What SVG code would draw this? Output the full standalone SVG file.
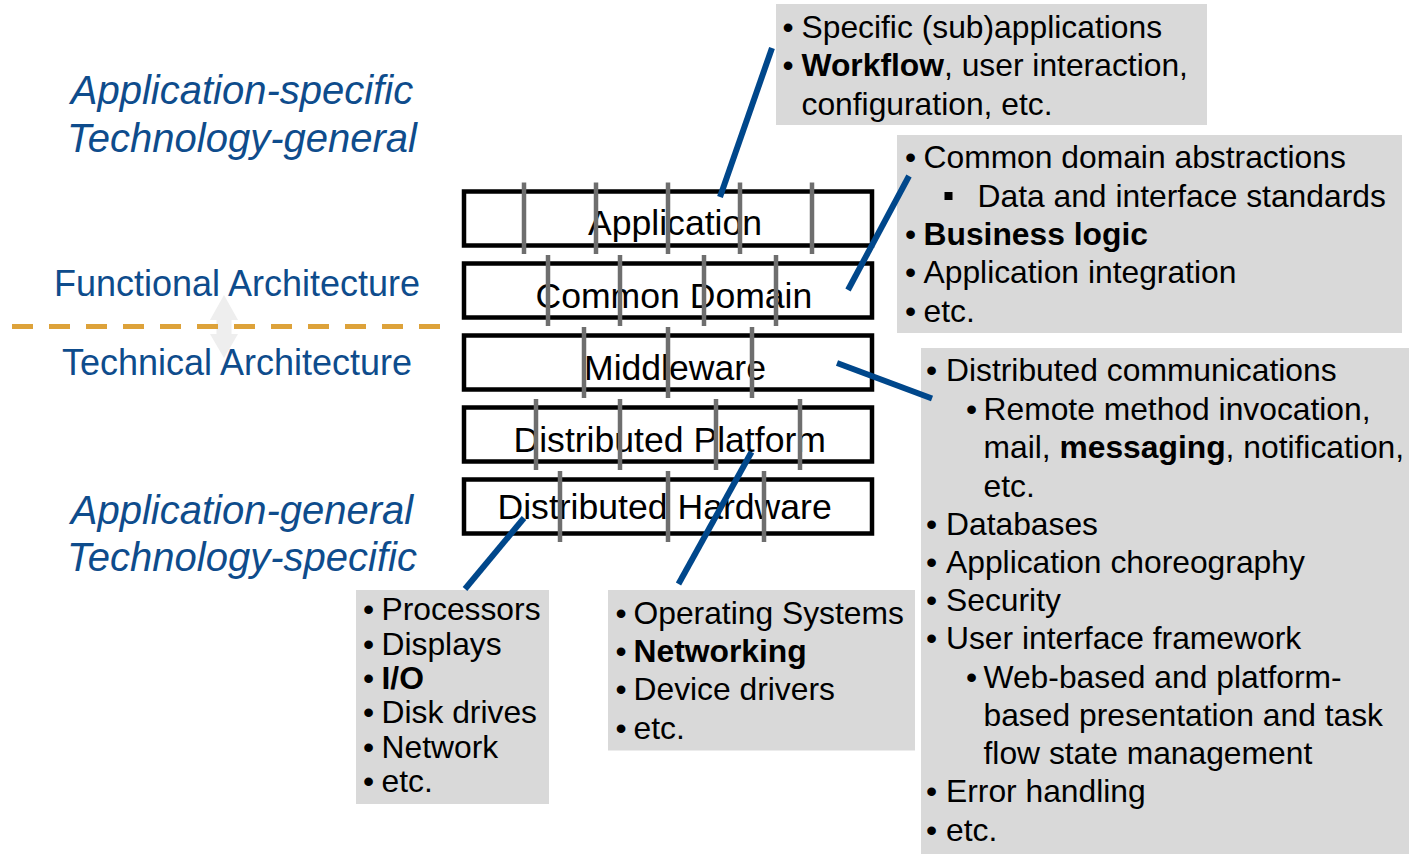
<svg xmlns="http://www.w3.org/2000/svg" width="1409" height="854" viewBox="0 0 1409 854">
  <style>
    text { font-family: "Liberation Sans", Arial, sans-serif; }
    .note { fill: #d9d9d9; }
    .nt { font-size: 31.8px; fill: #000; }
    .bl { font-size: 31.8px; fill: #000; text-anchor: middle; }
    .bold { font-weight: bold; }
    .layer { fill: #fff; stroke: #000; stroke-width: 4.5; }
    .lt { font-size: 35.6px; fill: #000; }
    .tick { stroke: #6e6e6e; stroke-width: 4.5; }
    .side { font-size: 40px; font-style: italic; fill: #0e4c8c; text-anchor: middle; }
    .arch { font-size: 36px; fill: #0e4c8c; text-anchor: middle; }
    .conn { stroke: #00478b; stroke-width: 6; stroke-linecap: butt; fill: none; }
  </style>

  <!-- Side captions -->
  <g id="caption-top">
    <text class="side" x="242" y="104">Application-specific</text>
    <text class="side" x="242" y="152">Technology-general</text>
  </g>
  <g id="caption-bottom">
    <text class="side" x="242" y="524">Application-general</text>
    <text class="side" x="242" y="571">Technology-specific</text>
  </g>

  <!-- Functional / technical boundary -->
  <g id="boundary">
    <polygon fill="#eeeeee" points="224,295 238,320 231.5,320 231.5,334 238,334 224,358 210,334 216.5,334 216.5,320 210,320"/>
    <line x1="12" y1="326.5" x2="440" y2="326.5" stroke="#dda23a" stroke-width="5" stroke-dasharray="21 16"/>
    <text class="arch" x="237" y="296">Functional Architecture</text>
    <text class="arch" x="237" y="375">Technical Architecture</text>
  </g>

  <!-- Layer stack -->
  <g id="layer-application">
    <rect class="layer" x="464" y="191.5" width="408" height="54"/>
    <text class="lt" x="588" y="235">Application</text>
    <line class="tick" x1="524" y1="182.5" x2="524" y2="254"/>
    <line class="tick" x1="596" y1="182.5" x2="596" y2="254"/>
    <line class="tick" x1="668" y1="182.5" x2="668" y2="254"/>
    <line class="tick" x1="740" y1="182.5" x2="740" y2="254"/>
    <line class="tick" x1="812" y1="182.5" x2="812" y2="254"/>
  </g>
  <g id="layer-common-domain">
    <rect class="layer" x="464" y="263.5" width="408" height="54"/>
    <text class="lt" x="535.5" y="307.5">Common Domain</text>
    <line class="tick" x1="548" y1="255" x2="548" y2="326"/>
    <line class="tick" x1="620" y1="255" x2="620" y2="326"/>
    <line class="tick" x1="704" y1="255" x2="704" y2="326"/>
    <line class="tick" x1="776" y1="255" x2="776" y2="326"/>
  </g>
  <g id="layer-middleware">
    <rect class="layer" x="464" y="335.5" width="408" height="54"/>
    <text class="lt" x="584" y="379.5">Middleware</text>
    <line class="tick" x1="584" y1="327" x2="584" y2="398"/>
    <line class="tick" x1="668" y1="327" x2="668" y2="398"/>
    <line class="tick" x1="752" y1="327" x2="752" y2="398"/>
  </g>
  <g id="layer-distributed-platform">
    <rect class="layer" x="464" y="407.5" width="408" height="54"/>
    <text class="lt" x="513.5" y="451.5">Distributed Platform</text>
    <line class="tick" x1="536" y1="399" x2="536" y2="470"/>
    <line class="tick" x1="620" y1="399" x2="620" y2="470"/>
    <line class="tick" x1="716" y1="399" x2="716" y2="470"/>
    <line class="tick" x1="800" y1="399" x2="800" y2="470"/>
  </g>
  <g id="layer-distributed-hardware">
    <rect class="layer" x="464" y="479.5" width="408" height="54"/>
    <text class="lt" x="497.5" y="519">Distributed Hardware</text>
    <line class="tick" x1="560" y1="471" x2="560" y2="542"/>
    <line class="tick" x1="668" y1="471" x2="668" y2="542"/>
    <line class="tick" x1="764" y1="471" x2="764" y2="542"/>
  </g>

  <!-- Notes -->
  <g id="note-application">
    <rect class="note" x="776" y="4" width="431" height="121"/>
    <text class="bl" x="788" y="37.5">•</text>
    <text class="nt" x="801.5" y="37.5">Specific (sub)applications</text>
    <text class="bl" x="788" y="76">•</text>
    <text class="nt" x="801.5" y="76"><tspan class="bold">Workflow</tspan>, user interaction,</text>
    <text class="nt" x="801.5" y="114.5">configuration, etc.</text>
  </g>

  <g id="note-common-domain">
    <rect class="note" x="897" y="135" width="505" height="198"/>
    <text class="bl" x="910.5" y="168">•</text>
    <text class="nt" x="923.5" y="168">Common domain abstractions</text>
    <rect x="944.5" y="192" width="8" height="8" fill="#000"/>
    <text class="nt" x="977.5" y="206.5">Data and interface standards</text>
    <text class="bl" x="910.5" y="244.5">•</text>
    <text class="nt bold" x="923.5" y="244.5">Business logic</text>
    <text class="bl" x="910.5" y="283">•</text>
    <text class="nt" x="923.5" y="283">Application integration</text>
    <text class="bl" x="910.5" y="321.5">•</text>
    <text class="nt" x="923.5" y="321.5">etc.</text>
  </g>

  <g id="note-middleware">
    <rect class="note" x="921" y="348" width="488" height="506"/>
    <text class="bl" x="931.5" y="381">•</text>
    <text class="nt" x="946" y="381">Distributed communications</text>
    <text class="bl" x="971.5" y="419.5">•</text>
    <text class="nt" x="983.5" y="419.5">Remote method invocation,</text>
    <text class="nt" x="983.5" y="458">mail, <tspan class="bold">messaging</tspan>, notification,</text>
    <text class="nt" x="983.5" y="496.5">etc.</text>
    <text class="bl" x="931.5" y="534.5">•</text>
    <text class="nt" x="946" y="534.5">Databases</text>
    <text class="bl" x="931.5" y="573">•</text>
    <text class="nt" x="946" y="573">Application choreography</text>
    <text class="bl" x="931.5" y="611">•</text>
    <text class="nt" x="946" y="611">Security</text>
    <text class="bl" x="931.5" y="649">•</text>
    <text class="nt" x="946" y="649">User interface framework</text>
    <text class="bl" x="971.5" y="687.5">•</text>
    <text class="nt" x="983.5" y="687.5">Web-based and platform-</text>
    <text class="nt" x="983.5" y="725.5">based presentation and task</text>
    <text class="nt" x="983.5" y="764">flow state management</text>
    <text class="bl" x="931.5" y="802">•</text>
    <text class="nt" x="946" y="802">Error handling</text>
    <text class="bl" x="931.5" y="840.5">•</text>
    <text class="nt" x="946" y="840.5">etc.</text>
  </g>

  <g id="note-hardware">
    <rect class="note" x="356" y="590" width="193" height="214"/>
    <text class="bl" x="368.5" y="620">•</text>
    <text class="nt" x="381.5" y="620">Processors</text>
    <text class="bl" x="368.5" y="654.5">•</text>
    <text class="nt" x="381.5" y="654.5">Displays</text>
    <text class="bl" x="368.5" y="689">•</text>
    <text class="nt bold" x="381.5" y="689">I/O</text>
    <text class="bl" x="368.5" y="723">•</text>
    <text class="nt" x="381.5" y="723">Disk drives</text>
    <text class="bl" x="368.5" y="757.5">•</text>
    <text class="nt" x="381.5" y="757.5">Network</text>
    <text class="bl" x="368.5" y="792">•</text>
    <text class="nt" x="381.5" y="792">etc.</text>
  </g>

  <g id="note-platform">
    <rect class="note" x="608" y="590" width="307" height="160.5"/>
    <text class="bl" x="621" y="623.5">•</text>
    <text class="nt" x="633.5" y="623.5">Operating Systems</text>
    <text class="bl" x="621" y="662">•</text>
    <text class="nt bold" x="633.5" y="662">Networking</text>
    <text class="bl" x="621" y="700">•</text>
    <text class="nt" x="633.5" y="700">Device drivers</text>
    <text class="bl" x="621" y="738.5">•</text>
    <text class="nt" x="633.5" y="738.5">etc.</text>
  </g>

  <!-- Callout connectors -->
  <g id="connectors">
    <line class="conn" x1="720" y1="197" x2="772" y2="48"/>
    <line class="conn" x1="848" y1="290" x2="909" y2="176"/>
    <line class="conn" x1="837" y1="363" x2="932" y2="398.5"/>
    <line class="conn" x1="465" y1="589" x2="524" y2="518"/>
    <line class="conn" x1="678.5" y1="584" x2="751.5" y2="452"/>
  </g>
</svg>
